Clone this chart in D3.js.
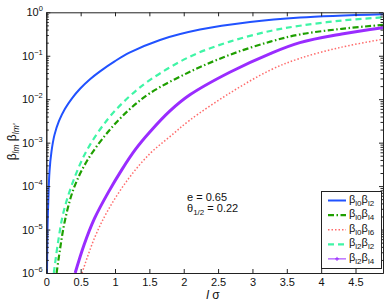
<!DOCTYPE html>
<html>
<head>
<meta charset="utf-8">
<script src="https://cdn.jsdelivr.net/npm/d3@7"></script>
<style>
  body { margin: 0; background: #fff; }
  text { font-family: "Liberation Sans", Arial, sans-serif; fill: #111; }
</style>
</head>
<body>
<div id="chart"></div>
<script>
// x values (l sigma) and y values for each curve
var blueL  = [0.0102, 0.0175, 0.0291, 0.0466, 0.0757, 0.119, 0.185, 0.272, 0.374, 0.491, 0.636, 0.782, 1.0, 1.218, 1.655, 2.237, 2.965, 3.693, 4.9]
var blueV  = [1e-6, 1e-5, 4.47e-5, 2.19e-4, 6.31e-4, 1.51e-3, 3.16e-3, 6.03e-3, 1.05e-2, 1.74e-2, 2.88e-2, 4.37e-2, 7.52e-2, 0.119, 0.231, 0.4, 0.596, 0.755, 0.9]

var greenL = [0.15, 0.2, 0.27, 0.4, 0.6, 0.9, 1.2, 1.51, 2.09, 2.67, 3.26, 3.69, 4.3, 4.9]
var greenV = [1e-6, 3.55e-6, 1.58e-5, 8.9e-5, 3.98e-4, 1.78e-3, 5.62e-3, 1.38e-2, 4.27e-2, 0.105, 0.211, 0.309, 0.417, 0.513]

var pinkL  = [0.52, 0.7, 0.9, 1.2, 1.51, 1.8, 2.09, 2.67, 3.26, 3.69, 4.3, 4.9]
var pinkV  = [1e-6, 6.31e-6, 2.82e-5, 1.51e-4, 5.62e-4, 1.38e-3, 3.31e-3, 1.38e-2, 4.68e-2, 8.71e-2, 0.158, 0.24]

var cyanL  = [0.11, 0.17, 0.25, 0.4, 0.6, 0.9, 1.2, 1.51, 2.09, 2.67, 3.26, 3.69, 4.3, 4.9]
var cyanV  = [1e-6, 5.0e-6, 2.5e-5, 1.41e-4, 7.1e-4, 3.55e-3, 1.12e-2, 2.78e-2, 9.55e-2, 0.211, 0.372, 0.49, 0.646, 0.767]

var purpleL = [0.42, 0.55, 0.7, 0.9, 1.1, 1.3, 1.51, 1.8, 2.09, 2.67, 3.26, 3.69, 4.3, 4.9]
var purpleV = [1e-6, 4.47e-6, 1.78e-5, 7.08e-5, 2.4e-4, 7.08e-4, 1.78e-3, 5.37e-3, 1.26e-2, 4.17e-2, 0.112, 0.2, 0.316, 0.443]

var xTicks = [0, 0.5, 1, 1.5, 2, 2.5, 3, 3.5, 4, 4.5]
var yExps = [-6, -5, -4, -3, -2, -1, 0]
var legendSubs = [["l0", "l2"], ["l0", "l4"], ["l0", "l6"], ["l2", "l2"], ["l2", "l4"]]

var width = 387, height = 303
var margin = {top: 12.3, right: 4, bottom: 30, left: 46.3}
var w = width - margin.left - margin.right
var h = height - margin.top - margin.bottom

var svg = d3.select("#chart").append("svg")
  .attr("width", width)
  .attr("height", height)

var g = svg.append("g")
  .attr("transform", "translate(" + margin.left + "," + margin.top + ")")

var x = d3.scaleLinear().domain([0, 4.9]).range([0, w])
var y = d3.scaleLog().domain([1e-6, 1]).range([h, 0])

svg.append("defs").append("clipPath").attr("id", "clip")
  .append("rect").attr("width", w).attr("height", h)

// series styles
var series = [
  {L: blueL, V: blueV, color: "#2152ff", width: 2, dash: null},
  {L: greenL, V: greenV, color: "#1f9f00", width: 2.2, dash: "6,2.5,1.5,2.5"},
  {L: pinkL, V: pinkV, color: "#ff6b6b", width: 1.5, dash: "1.5,2"},
  {L: cyanL, V: cyanV, color: "#3ff5a6", width: 2.2, dash: "6,4"},
  {L: purpleL, V: purpleV, color: "#9a2cff", width: 3, dash: null}
]

var line = d3.line()
  .x(function(d) { return x(d[0]) })
  .y(function(d) { return y(d[1]) })
  .curve(d3.curveCatmullRom.alpha(0.5))

var plot = g.append("g").attr("clip-path", "url(#clip)")
series.forEach(function(s) {
  var pts = s.L.map(function(l, i) { return [l, s.V[i]] })
  plot.append("path")
    .attr("d", line(pts))
    .attr("fill", "none")
    .attr("stroke", s.color)
    .attr("stroke-width", s.width)
    .attr("stroke-dasharray", s.dash)
})

// axes (ticks pointing inward, like matlab)
var minor = []
for (var e = -6; e < 0; e++) {
  for (var k = 2; k <= 9; k++) minor.push(k * Math.pow(10, e))
}
var major = yExps.map(function(p) { return Math.pow(10, p) })

g.append("g").attr("transform", "translate(0," + h + ")")
  .call(d3.axisBottom(x).tickValues(xTicks).tickSize(-4).tickSizeOuter(0).tickPadding(5)
    .tickFormat(function(d) { return d }))
  .attr("class", "ax")
g.append("g")
  .call(d3.axisTop(x).tickValues(xTicks).tickSize(-4).tickSizeOuter(0).tickFormat(""))
  .attr("class", "ax")
g.append("g")
  .call(d3.axisLeft(y).tickValues(major).tickSize(-4).tickSizeOuter(0).tickFormat(""))
  .attr("class", "ax")
g.append("g")
  .call(d3.axisLeft(y).tickValues(minor).tickSize(-2.5).tickSizeOuter(0).tickFormat(""))
  .attr("class", "ax")
g.append("g").attr("transform", "translate(" + w + ",0)")
  .call(d3.axisRight(y).tickValues(major).tickSize(-4).tickSizeOuter(0).tickFormat(""))
  .attr("class", "ax")
g.append("g").attr("transform", "translate(" + w + ",0)")
  .call(d3.axisRight(y).tickValues(minor).tickSize(-2.5).tickSizeOuter(0).tickFormat(""))
  .attr("class", "ax")

g.selectAll(".ax path, .ax line").attr("stroke", "#222")
g.selectAll(".ax text").style("font-size", "11px").attr("fill", "#111")

// y tick labels 10^n
yExps.forEach(function(p) {
  var t = g.append("text")
    .attr("x", -3.5)
    .attr("y", y(Math.pow(10, p)) + 4)
    .attr("text-anchor", "end")
    .style("font-size", "11px")
  t.append("tspan").text("10")
  t.append("tspan").attr("dy", -5).style("font-size", "7.5px").text(p == 0 ? "0" : "\u2212" + (-p))
})

// axis labels
svg.append("text")
  .attr("x", 213).attr("y", 299)
  .attr("text-anchor", "middle")
  .style("font-size", "12px")
  .html('<tspan font-style="italic">l</tspan> \u03c3')

var yl = svg.append("text")
  .attr("transform", "translate(16,142) rotate(-90)")
  .attr("text-anchor", "middle")
  .style("font-size", "12px")
yl.append("tspan").text("\u03b2")
yl.append("tspan").attr("dy", 3).style("font-size", "8.5px").style("font-style", "italic").text("lm")
yl.append("tspan").attr("dy", -3).text(" \u03b2")
yl.append("tspan").attr("dy", 3).style("font-size", "8.5px").style("font-style", "italic").text("lm'")

// annotation
svg.append("text").attr("x", 187).attr("y", 200.5).style("font-size", "11px").text("e = 0.65")
var a2 = svg.append("text").attr("x", 187).attr("y", 211.5).style("font-size", "11px")
a2.append("tspan").text("\u03b8")
a2.append("tspan").attr("dy", 3).style("font-size", "8px").text("1/2")
a2.append("tspan").attr("dy", -3).text(" = 0.22")

// legend
var lg = svg.append("g")
lg.append("rect")
  .attr("x", 321.5).attr("y", 191.5).attr("width", 60).attr("height", 77)
  .attr("fill", "#fff").attr("stroke", "#222")
series.forEach(function(s, i) {
  var yy = 200.5 + i * 14.6
  lg.append("line")
    .attr("x1", 328).attr("x2", 346).attr("y1", yy).attr("y2", yy)
    .attr("stroke", s.color)
    .attr("stroke-width", i == 4 ? 1 : s.width)
    .attr("stroke-dasharray", s.dash)
  if (i == 4) {
    lg.append("path")
      .attr("d", "M337,"+(yy-2)+"V"+(yy+2)+"M335,"+yy+"H339")
      .attr("stroke", s.color).attr("stroke-width", 1)
  }
  var t = lg.append("text").attr("x", 349).attr("y", yy + 2).style("font-size", "11px")
  t.append("tspan").text("\u03b2")
  t.append("tspan").attr("dy", 3).style("font-size", "8px").text(legendSubs[i][0])
  t.append("tspan").attr("dy", -3).text("\u03b2")
  t.append("tspan").attr("dy", 3).style("font-size", "8px").text(legendSubs[i][1])
})
</script>
</body>
</html>
